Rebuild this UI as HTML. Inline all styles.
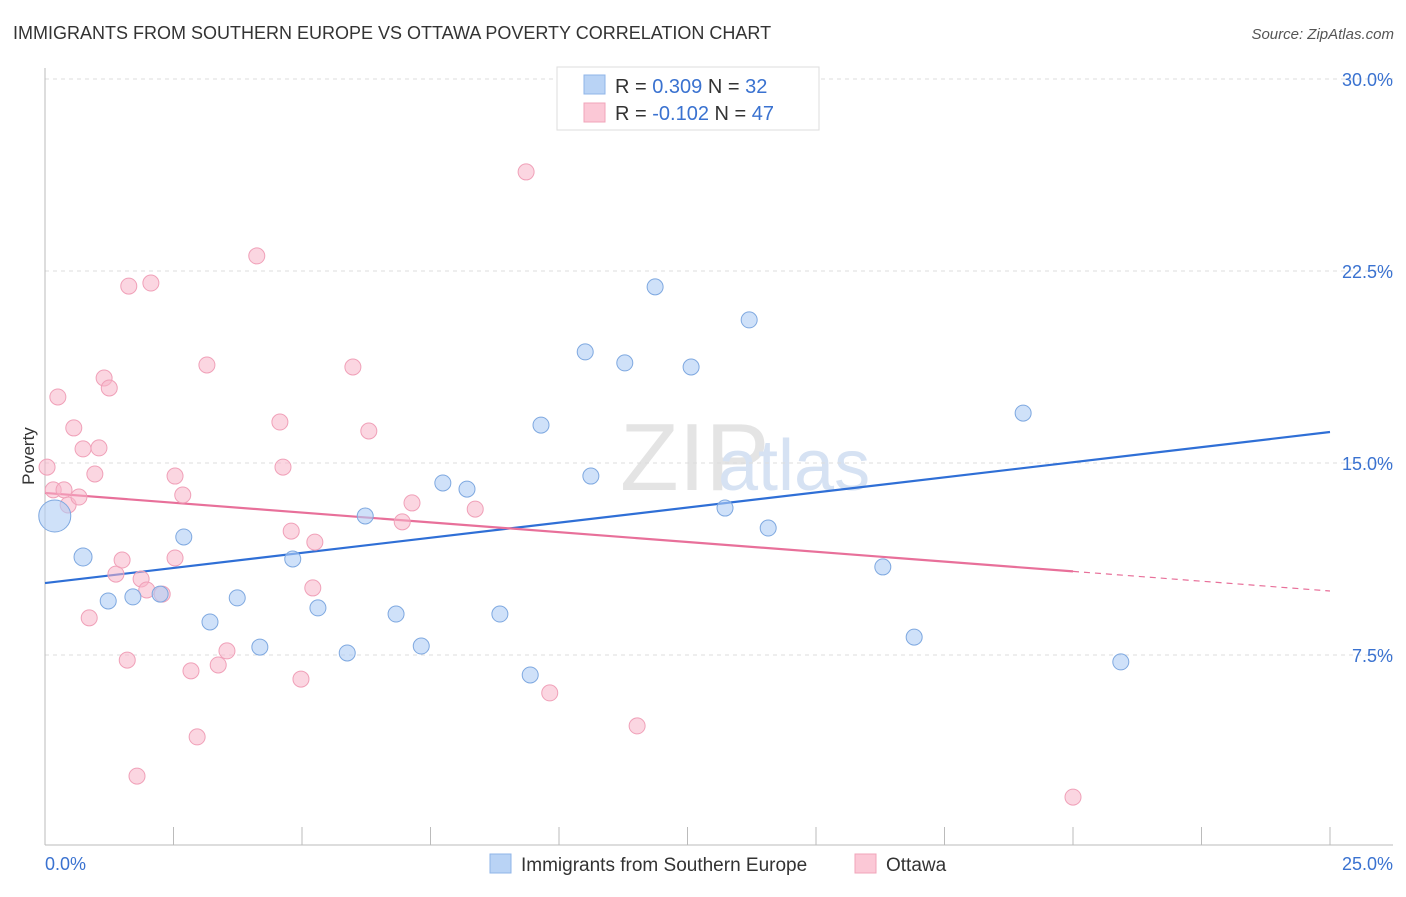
<!DOCTYPE html>
<html><head><meta charset="utf-8"><style>
body{margin:0;background:#fff;font-family:"Liberation Sans",sans-serif;}
svg text{font-family:"Liberation Sans",sans-serif;}
</style></head><body>
<svg id="chart" width="1406" height="892">
<text x="13" y="39" font-size="18" fill="#333">IMMIGRANTS FROM SOUTHERN EUROPE VS OTTAWA POVERTY CORRELATION CHART</text>
<text x="1394" y="39" font-size="15" fill="#555" font-style="italic" text-anchor="end">Source: ZipAtlas.com</text>
<text x="620" y="490" font-size="96" fill="#e4e4e4" font-family="Liberation Serif">ZIP</text>
<text x="718" y="490" font-size="72" fill="#d6e2f3">atlas</text>
<g id="grid"></g><g id="axes"></g><g id="lines"></g><g id="pts"></g>
<text x="34" y="456" font-size="17" fill="#333" text-anchor="middle" transform="rotate(-90 34 456)">Poverty</text>
<g>
<rect x="557" y="67" width="262" height="63" fill="#fff" stroke="#ddd"/>
<rect x="584" y="75" width="21" height="19" fill="#b9d3f5" stroke="#8fb5e8"/>
<rect x="584" y="103" width="21" height="19" fill="#fbc8d6" stroke="#f0a4ba"/>
<text x="615" y="93" font-size="20" fill="#333">R = <tspan fill="#3a72d0">0.309</tspan>   N = <tspan fill="#3a72d0">32</tspan></text>
<text x="615" y="120" font-size="20" fill="#333">R = <tspan fill="#3a72d0">-0.102</tspan>   N = <tspan fill="#3a72d0">47</tspan></text>
</g>
<g>
<rect x="490" y="854" width="21" height="19" fill="#b9d3f5" stroke="#8fb5e8"/>
<text x="521" y="871" font-size="19" fill="#333">Immigrants from Southern Europe</text>
<rect x="855" y="854" width="21" height="19" fill="#fbc8d6" stroke="#f0a4ba"/>
<text x="886" y="871" font-size="19" fill="#333">Ottawa</text>
</g>
</svg>
<script>
const blueX=[0.19,0.74,1.23,1.71,2.24,2.70,3.21,3.74,4.18,4.82,5.31,5.88,6.23,6.83,7.32,7.74,8.21,8.85,9.44,9.65,10.51,10.62,11.28,11.87,12.57,13.23,13.70,14.07,16.30,16.91,19.03,20.93];
const blueY=[12.93,11.33,9.61,9.77,9.88,12.11,8.79,9.73,7.81,11.25,9.34,7.58,12.93,9.10,7.85,14.22,13.98,9.10,6.72,16.48,19.34,14.49,18.91,21.88,18.75,13.24,20.59,12.46,10.94,8.20,16.95,7.23];
const blueR=[16,9,8,8,8,8,8,8,8,8,8,8,8,8,8,8,8,8,8,8,8,8,8,8,8,8,8,8,8,8,8,8];
const pinkX=[0.04,0.16,0.25,0.37,0.45,0.56,0.66,0.74,0.86,0.97,1.05,1.15,1.25,1.38,1.50,1.60,1.63,1.79,1.87,1.98,2.06,2.28,2.53,2.53,2.68,2.84,2.96,3.15,3.37,3.54,4.12,4.57,4.63,4.79,4.98,5.21,5.25,5.99,6.30,6.95,7.14,8.37,9.36,9.82,11.52,11.77,20.00];
const pinkY=[14.84,13.95,17.58,13.95,13.36,16.37,13.67,15.55,8.95,14.57,15.59,18.32,17.93,10.66,11.21,7.30,21.91,2.77,10.47,10.04,22.03,9.88,14.49,11.29,13.75,6.88,4.30,18.83,7.11,7.66,23.09,16.60,14.84,12.34,6.56,10.12,11.91,18.75,16.25,12.70,13.44,13.20,26.37,6.02,4.73,29.41,1.95];
const blueTrend=[10.31,16.21];
const pinkTrend=[13.83,10.0];
const pinkSolidEnd=20;
const yTicks=[7.5,15,22.5,30];
const yTickLabels=["7.5%","15.0%","22.5%","30.0%"];
const xTicks=[0,2.5,5,7.5,10,12.5,15,17.5,20,22.5,25];
const NS="http://www.w3.org/2000/svg";
const sx=v=>45+v*51.4, sy=v=>847-v*25.6;
function mk(tag,attrs,parent){const e=document.createElementNS(NS,tag);for(const k in attrs)e.setAttribute(k,attrs[k]);document.getElementById(parent).appendChild(e);return e;}
yTicks.forEach((t,i)=>{
 const g=mk('line',{x1:45,x2:1393,y1:sy(t),y2:sy(t),stroke:'#ddd','stroke-dasharray':'4,4'},'grid');
 
 
 const l=mk('text',{x:1393,y:sy(t)+7,'font-size':18,fill:'#3a72d0','text-anchor':'end'},'grid');
 l.textContent=yTickLabels[i];
 
 
});
const ya=mk('line',{x1:45,x2:45,y1:68,y2:845,stroke:'#bbb'},'axes');


const xa=mk('line',{x1:45,x2:1393,y1:845,y2:845,stroke:'#bbb'},'axes');


xTicks.forEach(t=>{
 const tk=mk('line',{x1:sx(t),x2:sx(t),y1:827,y2:845,stroke:'#bbb'},'axes');
 
 
});
const xl0=mk('text',{x:45,y:870,'font-size':18,fill:'#3a72d0'},'axes');xl0.textContent="0.0%";


const xl1=mk('text',{x:1393,y:870,'font-size':18,fill:'#3a72d0','text-anchor':'end'},'axes');xl1.textContent="25.0%";


const pv=x=>pinkTrend[0]+(pinkTrend[1]-pinkTrend[0])*x/25;
const bt=mk('line',{x1:sx(0),y1:sy(blueTrend[0]),x2:sx(25),y2:sy(blueTrend[1]),stroke:'#2f6fd6','stroke-width':2.2},'lines');


const pt=mk('line',{x1:sx(0),y1:sy(pv(0)),x2:sx(pinkSolidEnd),y2:sy(pv(pinkSolidEnd)),stroke:'#e8709a','stroke-width':2.2},'lines');


const pd=mk('line',{x1:sx(pinkSolidEnd),y1:sy(pv(pinkSolidEnd)),x2:sx(25),y2:sy(pv(25)),stroke:'#e8709a','stroke-width':1.2,'stroke-dasharray':'6,5'},'lines');


pinkX.forEach((x,i)=>{
 const c=mk('circle',{cx:sx(x),cy:sy(pinkY[i]),r:8,fill:'rgba(248,180,200,0.55)',stroke:'#f0a0b8','stroke-width':1},'pts');
 
 
});
blueX.forEach((x,i)=>{
 const c=mk('circle',{cx:sx(x),cy:sy(blueY[i]),r:blueR[i],fill:'rgba(175,205,245,0.6)',stroke:'#7ea8e0','stroke-width':1},'pts');
 
 
});
</script>
</body></html>
